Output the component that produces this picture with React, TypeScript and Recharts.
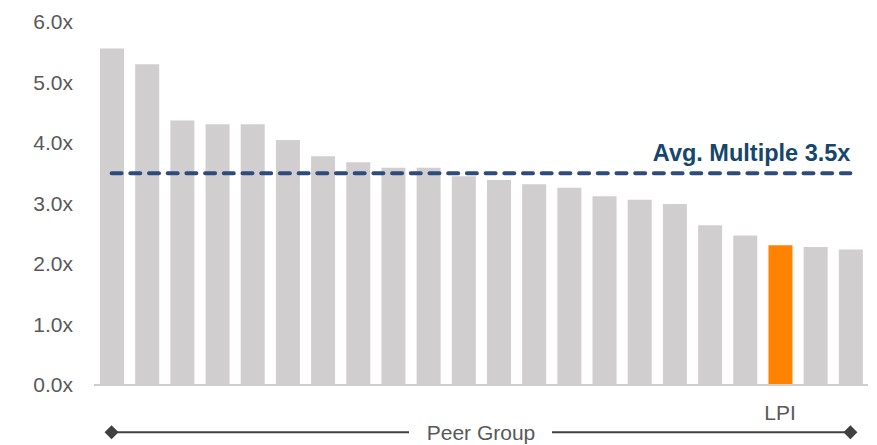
import { BarChart, Bar, XAxis, YAxis, Cell, ReferenceLine, ReferenceDot } from "recharts";

// companies, sorted by multiple (LPI highlighted)
const companies = [
  "Peer 1", "Peer 2", "Peer 3", "Peer 4", "Peer 5", "Peer 6", "Peer 7", "Peer 8",
  "Peer 9", "Peer 10", "Peer 11", "Peer 12", "Peer 13", "Peer 14", "Peer 15", "Peer 16",
  "Peer 17", "Peer 18", "Peer 19", "LPI", "Peer 20", "Peer 21",
];
const multiples = [
  5.56, 5.3, 4.37, 4.31, 4.31, 4.05, 3.78, 3.68, 3.59, 3.59, 3.45,
  3.39, 3.32, 3.26, 3.12, 3.06, 2.99, 2.64, 2.47, 2.31, 2.28, 2.24,
];
const yTicks = [0, 1, 2, 3, 4, 5, 6];
const avgMultiple = 3.5;
const avgLabel = "Avg. Multiple 3.5x";
const groupLabel = "Peer Group";
const highlight = "LPI";
const bracketY = -0.78;

const data = companies.map((name, i) => ({ name, value: multiples[i] }));

const FONT = "'Liberation Sans', Arial, sans-serif";

const Diamond = (props: any) => {
  const { cx, cy } = props;
  const s = 7;
  return <path d={`M${cx - s},${cy} L${cx},${cy - s} L${cx + s},${cy} L${cx},${cy + s} Z`} fill="#404040" />;
};

const AvgLabel = (props: any) => {
  const vb = props.viewBox || {};
  return (
    <text x={vb.x + vb.width} y={vb.y - 12} textAnchor="end" fontSize={23.5} fontWeight="bold" fill="#16466B" fontFamily={FONT}>
      {avgLabel}
    </text>
  );
};

const GroupLabel = (props: any) => {
  const vb = props.viewBox || {};
  const cx = vb.x + vb.width / 2;
  return (
    <g>
      <rect x={cx - 72} y={vb.y - 10} width={143} height={20} fill="#ffffff" />
      <text x={cx} y={vb.y + 8} textAnchor="middle" fontSize={21} fill="#595959" fontFamily={FONT}>
        {groupLabel}
      </text>
    </g>
  );
};

export default function App() {
  return (
    <div style={{ position: "absolute", left: 0, top: 0, width: 877, height: 445, background: "#fff", fontFamily: FONT }}>
      <BarChart width={877} height={445} data={data} margin={{ top: 22, right: 9, left: 0, bottom: 30 }}>
        <XAxis
          dataKey="name"
          height={30}
          tickLine={false}
          axisLine={{ stroke: "#CFCDCD", strokeWidth: 2 }}
          interval={0}
          tickMargin={14}
          tickFormatter={(v: string) => (v === highlight ? v : "")}
          tick={{ fontSize: 21, fill: "#595959", fontFamily: FONT }}
        />
        <YAxis
          width={94}
          domain={[0, 6]}
          ticks={yTicks}
          axisLine={false}
          tickLine={false}
          tickMargin={15}
          tickFormatter={(v: number) => `${v.toFixed(1)}x`}
          tick={{ fontSize: 21, fill: "#595959", fontFamily: FONT }}
        />
        <Bar dataKey="value" barSize={24} isAnimationActive={false}>
          {data.map((d) => (
            <Cell key={d.name} fill={d.name === highlight ? "#FF8200" : "#D0CECE"} />
          ))}
        </Bar>
        <ReferenceLine
          segment={[{ x: companies[0], y: avgMultiple }, { x: companies[companies.length - 1], y: avgMultiple }]}
          stroke="#2F4B7C"
          strokeWidth={4}
          strokeDasharray="10 8.7"
          strokeLinecap="round"
          label={<AvgLabel />}
        />
        <ReferenceLine
          segment={[{ x: companies[0], y: bracketY }, { x: companies[companies.length - 1], y: bracketY }]}
          ifOverflow="visible"
          stroke="#404040"
          strokeWidth={2}
          label={<GroupLabel />}
        />
        <ReferenceDot x={companies[0]} y={bracketY} ifOverflow="visible" shape={<Diamond />} />
        <ReferenceDot x={companies[companies.length - 1]} y={bracketY} ifOverflow="visible" shape={<Diamond />} />
      </BarChart>
    </div>
  );
}
